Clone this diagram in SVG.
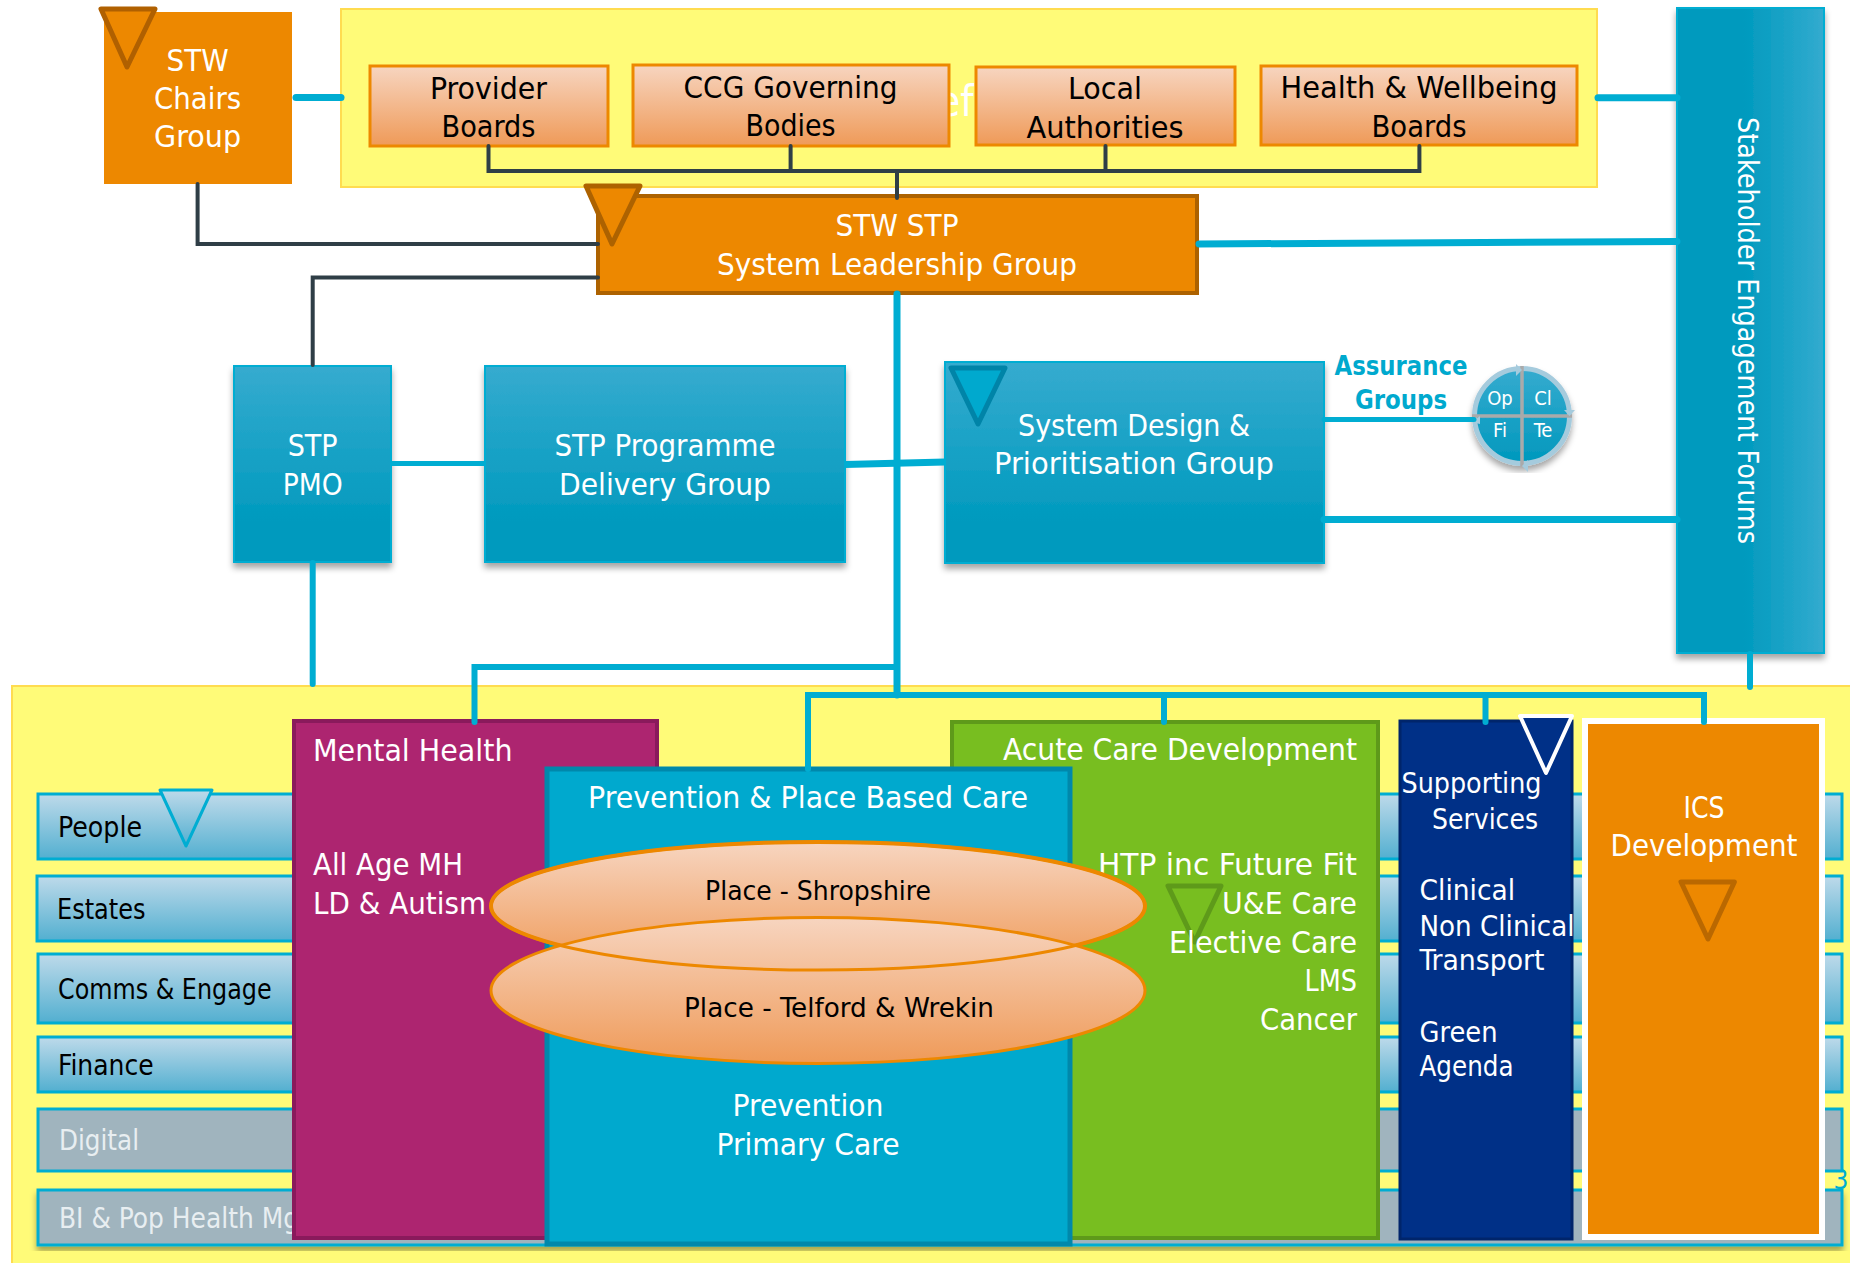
<svg xmlns="http://www.w3.org/2000/svg" width="1850" height="1263" viewBox="0 0 1850 1263">
<defs>
<linearGradient id="gBlue" x1="0" y1="0" x2="0" y2="1"><stop offset="0" stop-color="#36ABCF"/><stop offset="0.8" stop-color="#009ABE"/><stop offset="1" stop-color="#009ABE"/></linearGradient>
<linearGradient id="gSide" x1="0" y1="0" x2="1" y2="0"><stop offset="0" stop-color="#009ABE"/><stop offset="0.45" stop-color="#009ABE"/><stop offset="1" stop-color="#33ABCF"/></linearGradient>
<linearGradient id="gPale" x1="0" y1="0" x2="0" y2="1"><stop offset="0" stop-color="#BEDAEA"/><stop offset="1" stop-color="#52AFD0"/></linearGradient>
<linearGradient id="gOr" x1="0" y1="0" x2="0" y2="1"><stop offset="0" stop-color="#F7D5C0"/><stop offset="1" stop-color="#EF9A58"/></linearGradient>
<linearGradient id="gDisc" x1="0" y1="0" x2="0" y2="1"><stop offset="0" stop-color="#36ABCF"/><stop offset="1" stop-color="#0098BD"/></linearGradient>
<filter id="sh" x="-10%" y="-10%" width="120%" height="120%"><feDropShadow dx="0" dy="5" stdDeviation="3" flood-color="#000" flood-opacity="0.35"/></filter>
</defs>
<style>
text{font-family:"DejaVu Sans Condensed","DejaVu Sans",sans-serif;font-stretch:condensed;fill:#fff;font-size:31px}
.m{text-anchor:middle}
.e{text-anchor:end}
.k{fill:#000}
.s{font-size:28px}
.panel{fill:#FFFB78;stroke:#FFDC50;stroke-width:2}
.box{fill:url(#gOr);stroke:#ED8800;stroke-width:3}
.blue{fill:url(#gBlue);stroke:#00ADD2;stroke-width:2;filter:url(#sh)}
.pale{fill:url(#gPale);stroke:#00ADD2;stroke-width:3}
.grey{fill:#A0B4BE;stroke:#00ADD2;stroke-width:3}
.c1{fill:none;stroke:#00ADD2;stroke-width:6;stroke-linecap:round;stroke-linejoin:miter}
.c2{fill:none;stroke:#2F3E46;stroke-width:4;stroke-linecap:round;stroke-linejoin:miter}
.tri{stroke-linejoin:round;stroke-width:5}
</style>

<g id="top-panel"><rect class="panel" x="341" y="9" width="1256" height="178"/>
<text x="937" y="116" style="font-size:42px">ef</text></g>
<g id="bottom-panel"><rect class="panel" x="12" y="686" width="1860" height="590"/></g>

<g id="stw-chairs"><rect x="104" y="12" width="188" height="172" fill="#ED8800"/>
<polygon class="tri" points="101,9 155,9 127,67" fill="#ED8800" stroke="#B06000"/>
<text class="m" x="197.600" y="71" textLength="62" lengthAdjust="spacingAndGlyphs">STW</text>
<text class="m" x="197.600" y="109" textLength="87" lengthAdjust="spacingAndGlyphs">Chairs</text>
<text class="m" x="197.600" y="147" textLength="87" lengthAdjust="spacingAndGlyphs">Group</text></g>

<g id="provider-boards"><rect class="box" x="370" y="66" width="238" height="80"/>
<text class="m k" x="488.500" y="99" textLength="117" lengthAdjust="spacingAndGlyphs">Provider</text>
<text class="m k" x="488.500" y="137" textLength="94" lengthAdjust="spacingAndGlyphs">Boards</text></g>
<g id="ccg-bodies"><rect class="box" x="633" y="65" width="316" height="81"/>
<text class="m k" x="790.600" y="98" textLength="214" lengthAdjust="spacingAndGlyphs">CCG Governing</text>
<text class="m k" x="790.600" y="136" textLength="90" lengthAdjust="spacingAndGlyphs">Bodies</text></g>
<g id="local-authorities"><rect class="box" x="976" y="67" width="259" height="78"/>
<text class="m k" x="1105" y="99" textLength="74" lengthAdjust="spacingAndGlyphs">Local</text>
<text class="m k" x="1105" y="138" textLength="157" lengthAdjust="spacingAndGlyphs">Authorities</text></g>
<g id="health-wellbeing"><rect class="box" x="1261" y="66" width="316" height="79"/>
<text class="m k" x="1419" y="98" textLength="277" lengthAdjust="spacingAndGlyphs">Health &amp; Wellbeing</text>
<text class="m k" x="1419" y="137" textLength="95" lengthAdjust="spacingAndGlyphs">Boards</text></g>

<g id="stw-stp"><rect x="598" y="196" width="599" height="97" fill="#ED8800" stroke="#AD6200" stroke-width="4"/>
<polygon class="tri" points="586,186 640,186 612,244" fill="#ED8800" stroke="#AD6200"/>
<text class="m" x="897" y="236" textLength="123" lengthAdjust="spacingAndGlyphs">STW STP</text>
<text class="m" x="897" y="275" textLength="360" lengthAdjust="spacingAndGlyphs">System Leadership Group</text></g>

<g id="stakeholder"><rect x="1677" y="8" width="147" height="645" fill="url(#gSide)" stroke="#00ADD2" stroke-width="2" filter="url(#sh)"/>
<text transform="translate(1738,117) rotate(90)" textLength="427" lengthAdjust="spacingAndGlyphs" style="font-size:28px;font-stretch:normal;font-family:'DejaVu Sans',sans-serif">Stakeholder Engagement Forums</text></g>

<g id="stp-pmo"><rect class="blue" x="234" y="366" width="157" height="196"/>
<text class="m" x="312.700" y="456" textLength="50" lengthAdjust="spacingAndGlyphs">STP</text>
<text class="m" x="312.700" y="495" textLength="60" lengthAdjust="spacingAndGlyphs">PMO</text></g>
<g id="delivery-group"><rect class="blue" x="485" y="366" width="360" height="196"/>
<text class="m" x="665" y="456" textLength="221" lengthAdjust="spacingAndGlyphs">STP Programme</text>
<text class="m" x="665" y="495" textLength="212" lengthAdjust="spacingAndGlyphs">Delivery Group</text></g>
<g id="system-design"><rect class="blue" x="945" y="362" width="379" height="201"/>
<polygon class="tri" points="951,368 1005,368 978,424" fill="#00A9CE" stroke="#0084A8"/>
<text class="m" x="1134" y="436" textLength="232" lengthAdjust="spacingAndGlyphs">System Design &amp;</text>
<text class="m" x="1134" y="474" textLength="280" lengthAdjust="spacingAndGlyphs">Prioritisation Group</text></g>

<g id="assurance">
<text class="m" x="1401" y="375" textLength="133" lengthAdjust="spacingAndGlyphs" style="fill:#00A9CE;font-size:27px;font-weight:bold">Assurance</text>
<text class="m" x="1401" y="409" textLength="92" lengthAdjust="spacingAndGlyphs" style="fill:#00A9CE;font-size:27px;font-weight:bold">Groups</text>
<circle cx="1522" cy="416" r="47.500" fill="url(#gDisc)" stroke="#A5CBDD" stroke-width="5" filter="url(#sh)"/>
<path d="M1522 366V466M1472 416H1572" stroke="#AAAAAA" stroke-width="3.500" fill="none"/>
<polygon points="1516,364 1522,370 1516,376" fill="#A5CBDD"/>
<polygon points="1564,410 1575,410 1569.500,416" fill="#A5CBDD"/>
<polygon points="1528,460 1522,466 1528,472" fill="#A5CBDD"/>
<polygon points="1472,422 1480,416 1480,424" fill="#A5CBDD"/>
<text class="m" x="1500" y="405" style="font-size:20px">Op</text>
<text class="m" x="1543" y="405" style="font-size:20px">Cl</text>
<text class="m" x="1500" y="437" style="font-size:20px">Fi</text>
<text class="m" x="1543" y="437" style="font-size:20px">Te</text></g>

<text class="m" x="1841" y="1189" style="fill:#00ADD2;font-size:26px">3</text>
<g id="people"><rect class="pale" x="38" y="794" width="1804" height="65"/>
<polygon points="160,790 212,790 186,846" fill="url(#gPale)" stroke="#00ADD2" stroke-width="3" stroke-linejoin="round"/>
<text class="s k" x="58" y="837" textLength="84" lengthAdjust="spacingAndGlyphs">People</text></g>
<g id="estates"><rect class="pale" x="37" y="876" width="1805" height="65"/>
<text class="s k" x="57" y="919" textLength="88.500" lengthAdjust="spacingAndGlyphs">Estates</text></g>
<g id="comms"><rect class="pale" x="38" y="954" width="1804" height="69"/>
<text class="s k" x="58" y="999" textLength="213.600" lengthAdjust="spacingAndGlyphs">Comms &amp; Engage</text></g>
<g id="finance"><rect class="pale" x="38" y="1037" width="1804" height="55"/>
<text class="s k" x="58" y="1075" textLength="95.600" lengthAdjust="spacingAndGlyphs">Finance</text></g>
<g id="digital"><rect class="grey" x="38" y="1109" width="1804" height="62"/>
<text class="s" x="59" y="1150" textLength="80" lengthAdjust="spacingAndGlyphs" style="fill:#E8EEF1">Digital</text></g>
<g id="bi-pop"><rect class="grey" x="38" y="1190" width="1804" height="55" filter="url(#sh)"/>
<text class="s" x="59" y="1228" textLength="240" lengthAdjust="spacingAndGlyphs" style="fill:#E8EEF1">BI &amp; Pop Health Mg</text></g>

<g id="mental-health"><rect x="294" y="721" width="363" height="517" fill="#AD2570" stroke="#8A1A5C" stroke-width="4"/>
<text x="313" y="761" textLength="199.500" lengthAdjust="spacingAndGlyphs">Mental Health</text>
<text x="313" y="875" textLength="150" lengthAdjust="spacingAndGlyphs">All Age MH</text>
<text x="313" y="914" textLength="173" lengthAdjust="spacingAndGlyphs">LD &amp; Autism</text></g>

<g id="acute-care"><rect x="952" y="722" width="426" height="516" fill="#78BE20" stroke="#5E9A1A" stroke-width="4"/>
<text class="e" x="1357" y="760" textLength="354" lengthAdjust="spacingAndGlyphs">Acute Care Development</text>
<polygon class="tri" points="1168,886 1221,886 1194.600,942" fill="none" stroke="#5E9A1A"/>
<text class="e" x="1357" y="875" textLength="259" lengthAdjust="spacingAndGlyphs">HTP inc Future Fit</text>
<text class="e" x="1357" y="914" textLength="135" lengthAdjust="spacingAndGlyphs">U&amp;E Care</text>
<text class="e" x="1357" y="952.500" textLength="188" lengthAdjust="spacingAndGlyphs">Elective Care</text>
<text class="e" x="1357" y="990.500" textLength="52.500" lengthAdjust="spacingAndGlyphs">LMS</text>
<text class="e" x="1357" y="1029.500" textLength="97" lengthAdjust="spacingAndGlyphs">Cancer</text></g>

<g id="prevention"><rect x="547" y="769" width="523" height="475" fill="#00A9CE" stroke="#0088AB" stroke-width="5"/>
<text class="m" x="808" y="808" textLength="440" lengthAdjust="spacingAndGlyphs">Prevention &amp; Place Based Care</text>
<text class="m" x="808" y="1116" textLength="151" lengthAdjust="spacingAndGlyphs">Prevention</text>
<text class="m" x="808" y="1155" textLength="183" lengthAdjust="spacingAndGlyphs">Primary Care</text></g>

<g id="place-shropshire"><ellipse cx="818" cy="906" rx="327" ry="64" fill="url(#gOr)" stroke="#ED8800" stroke-width="4"/>
<text class="m k" x="818" y="899.500" textLength="226" lengthAdjust="spacingAndGlyphs" style="font-size:26px">Place - Shropshire</text></g>
<g id="place-telford"><ellipse cx="818" cy="990.500" rx="327" ry="73" fill="url(#gOr)" stroke="#ED8800" stroke-width="3"/>
<ellipse cx="818" cy="906" rx="327" ry="64" fill="none" stroke="#ED8800" stroke-width="3"/>
<text class="m k" x="839" y="1016.500" textLength="310" lengthAdjust="spacingAndGlyphs" style="font-size:26px">Place - Telford &amp; Wrekin</text></g>

<g id="supporting"><rect x="1400" y="721" width="172" height="518" fill="#003087" stroke="#00256B" stroke-width="3"/>
<polygon points="1520,716 1572,716 1546,773" fill="#003087" stroke="#fff" stroke-width="4" stroke-linejoin="round"/>
<text class="m s" x="1471.500" y="793" textLength="140" lengthAdjust="spacingAndGlyphs">Supporting</text>
<text class="m s" x="1485" y="829" textLength="106" lengthAdjust="spacingAndGlyphs">Services</text>
<text class="s" x="1419.500" y="900" textLength="95.600" lengthAdjust="spacingAndGlyphs">Clinical</text>
<text class="s" x="1419.500" y="935.500" textLength="155" lengthAdjust="spacingAndGlyphs">Non Clinical</text>
<text class="s" x="1419.500" y="970" textLength="125" lengthAdjust="spacingAndGlyphs">Transport</text>
<text class="s" x="1419.500" y="1041.500" textLength="78" lengthAdjust="spacingAndGlyphs">Green</text>
<text class="s" x="1419.500" y="1076" textLength="94" lengthAdjust="spacingAndGlyphs">Agenda</text></g>

<g id="ics"><rect x="1585" y="721" width="237" height="516" fill="#ED8800" stroke="#fff" stroke-width="6"/>
<polygon class="tri" points="1681,882 1734.400,882 1708,939" fill="none" stroke="#BA6800"/>
<text class="m" x="1704" y="817.500" textLength="41" lengthAdjust="spacingAndGlyphs">ICS</text>
<text class="m" x="1704" y="855.500" textLength="187" lengthAdjust="spacingAndGlyphs">Development</text></g>

<g id="connectors">
<path class="c2" d="M488.500 146V171H1419.400V146M790.600 146V171M1105.500 146V171M897 171V198"/>
<path class="c2" d="M197.600 184V244H598"/>
<path class="c2" d="M598 277.500H312.700V365"/>
<path class="c1" d="M296 97.600H341" style="stroke-width:7"/>
<path class="c1" d="M1598 97.800H1677" style="stroke-width:7"/>
<path class="c1" d="M1199 244L1677 241.500" style="stroke-width:7"/>
<path class="c1" d="M391 463.500H485" style="stroke-linecap:butt;stroke-width:5"/>
<path class="c1" d="M845 464.500L945 462" style="stroke-linecap:butt;stroke-width:7"/>
<path class="c1" d="M1324 419.600H1474" style="stroke-width:5"/>
<path class="c1" d="M1324 519.600H1677" style="stroke-width:7"/>
<path class="c1" d="M1750 654V687"/>
<path class="c1" d="M312.700 563V684"/>
<path class="c1" d="M897 294V695" style="stroke-width:7"/>
<path class="c1" d="M897 667H474.500V722"/>
<path class="c1" d="M808 769V695H1704V722"/>
<path class="c1" d="M1164 695V722"/>
<path class="c1" d="M1485.500 695V722"/>
</g>
</svg>
